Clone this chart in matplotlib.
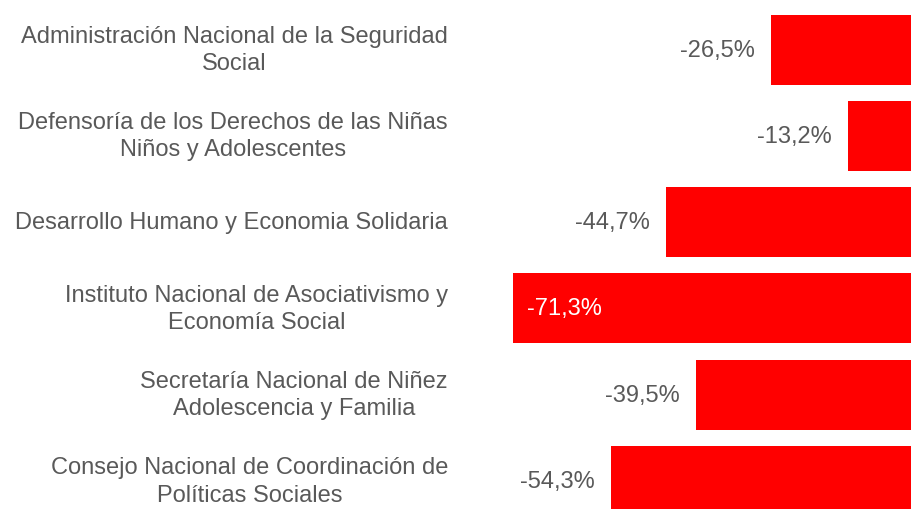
import matplotlib
matplotlib.use("Agg")
import matplotlib.pyplot as plt
from matplotlib import transforms

categories = [
    "Administración Nacional de la Seguridad\nSocial",
    "Defensoría de los Derechos de las Niñas\nNiños y Adolescentes",
    "Desarrollo Humano y Economia Solidaria",
    "Instituto Nacional de Asociativismo y\nEconomía Social",
    "Secretaría Nacional de Niñez\nAdolescencia y Familia",
    "Consejo Nacional de Coordinación de\nPolíticas Sociales",
]
values = [-26.5, -13.2, -44.7, -71.3, -39.5, -54.3]
value_labels = ["-26,5%", "-13,2%", "-44,7%", "-71,3%", "-39,5%", "-54,3%"]

W, H = 911, 510
fig = plt.figure(figsize=(W / 100, H / 100), dpi=100)
plt.rcParams['font.family'] = ['Liberation Sans', 'DejaVu Sans']

ax_left_px = 500
ax = fig.add_axes([ax_left_px / W, 0, 1 - ax_left_px / W, 1])
scale = 5.77  # px per unit
zero_px = 924
ax.set_xlim((ax_left_px - zero_px) / scale, (W - zero_px) / scale)
sp = 86.3
c0 = 50.5
ax.set_ylim((H - c0) / sp, -c0 / sp)
ax.axis('off')

pos = list(range(len(values)))
ax.barh(pos, values, height=70 / sp, color='#ff0000', left=0)

gray = '#595959'
fs = 17
for i, (v, lab) in enumerate(zip(values, value_labels)):
    if v < -60:
        ax.annotate(lab, (v, i), xytext=(14, 0), textcoords='offset pixels',
                    ha='left', va='center', color='white', fontsize=fs)
    else:
        ax.annotate(lab, (v, i), xytext=(-16, 0), textcoords='offset pixels',
                    ha='right', va='center', color=gray, fontsize=fs)

tr = transforms.blended_transform_factory(fig.transFigure, ax.transData)
for i, c in enumerate(categories):
    ax.text(448 / W, i, c, transform=tr, ha='right', va='center',
            multialignment='center', color=gray, fontsize=fs, clip_on=False,
            linespacing=1.3)

fig.savefig("out.png", dpi=100)
